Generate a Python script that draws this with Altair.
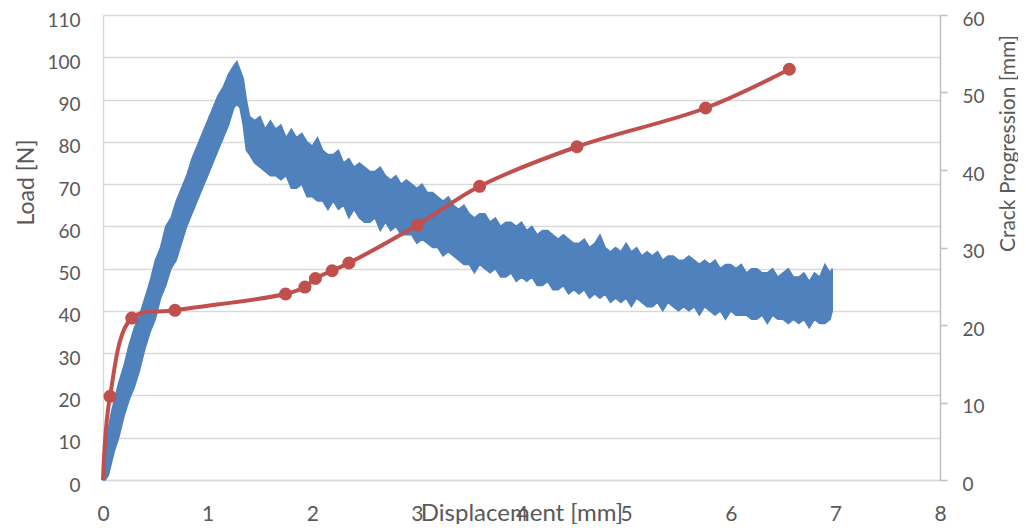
import altair as alt
import pandas as pd

# Load curve (noisy band): displacement [mm], lower and upper envelope of the load [N]
disp = [0.00, 0.02, 0.05, 0.08, 0.11, 0.15, 0.20, 0.25, 0.30, 0.35, 0.40, 0.45, 0.50, 0.55,
        0.60, 0.65, 0.70, 0.75, 0.80, 0.85, 0.90, 0.95, 1.00, 1.05, 1.10, 1.15, 1.20, 1.25,
        1.28, 1.31, 1.34, 1.37,
        1.40, 1.45, 1.50, 1.55, 1.60, 1.65, 1.70, 1.75, 1.80, 1.85, 1.90, 1.95, 2.00, 2.05,
        2.10, 2.15, 2.20, 2.25, 2.30, 2.35, 2.40, 2.45, 2.50, 2.55, 2.60, 2.65, 2.70, 2.75,
        2.80, 2.85, 2.90, 2.95, 3.00, 3.05, 3.10, 3.15, 3.20, 3.25, 3.30, 3.35, 3.40, 3.45,
        3.50, 3.55, 3.60, 3.65, 3.70, 3.75, 3.80, 3.85, 3.90, 3.95, 4.00, 4.05, 4.10, 4.15,
        4.20, 4.25, 4.30, 4.35, 4.40, 4.45, 4.50, 4.55, 4.60, 4.65, 4.70, 4.75, 4.80, 4.85,
        4.90, 4.95, 5.00, 5.05, 5.10, 5.15, 5.20, 5.25, 5.30, 5.35, 5.40, 5.45, 5.50, 5.55,
        5.60, 5.65, 5.70, 5.75, 5.80, 5.85, 5.90, 5.95, 6.00, 6.05, 6.10, 6.15, 6.20, 6.25,
        6.30, 6.35, 6.40, 6.45, 6.50, 6.55, 6.60, 6.65, 6.70, 6.75, 6.80, 6.85, 6.90, 6.95,
        6.97]
load_lo = [0, 0, 1, 4, 7, 10, 15, 19, 22, 26, 31, 35, 38, 43,
           46, 50, 52, 56, 60, 63, 66, 69, 72, 75, 78, 81, 84, 88,
           89, 88, 84, 78,
           77, 75, 74, 73, 72, 72, 71, 72, 69, 69, 70, 67, 67, 66,
           66, 64, 66, 64, 65, 62, 64, 62, 61, 61, 62, 59, 61, 59,
           60, 58, 58, 58, 56, 57, 56, 55, 55, 53, 54, 53, 52, 51,
           51, 49, 51, 50, 49, 50, 48, 48, 49, 47, 48, 47, 48, 46,
           46, 47, 45, 45, 46, 44, 45, 44, 45, 43, 44, 43, 44, 42,
           43, 42, 43, 41, 43, 42, 41, 41, 42, 40, 42, 41, 40, 41,
           40, 41, 39, 41, 40, 39, 40, 38, 40, 39, 39, 39, 38, 38,
           39, 37, 39, 38, 38, 37, 38, 37, 38, 36, 38, 37, 37, 38,
           40]
load_hi = [0, 5, 12, 16, 19, 23, 27, 32, 36, 39, 43, 47, 52, 55,
           60, 62, 66, 69, 72, 76, 79, 82, 85, 88, 91, 93, 96, 98,
           99, 97, 95, 90,
           86, 85, 86, 83, 85, 83, 84, 81, 83, 81, 82, 80, 79, 81,
           78, 77, 77, 78, 75, 76, 74, 75, 74, 73, 73, 74, 72, 71,
           72, 70, 71, 70, 69, 70, 68, 68, 67, 66, 67, 65, 64, 65,
           63, 62, 63, 63, 61, 62, 60, 61, 61, 60, 61, 59, 60, 58,
           59, 59, 58, 57, 58, 57, 56, 56, 57, 55, 56, 58, 55, 54,
           55, 54, 56, 54, 55, 53, 54, 53, 54, 52, 53, 53, 52, 52,
           53, 52, 51, 52, 51, 52, 50, 51, 51, 50, 51, 49, 50, 50,
           49, 49, 50, 48, 49, 50, 48, 48, 49, 47, 49, 48, 51, 49,
           50]

# Crack progression: displacement [mm] and crack length [mm]
crack_disp = [0.0, 0.067, 0.275, 0.688, 1.745, 1.93, 2.03, 2.19, 2.35, 3.005, 3.60, 4.53, 5.76, 6.56]
crack_mm = [0, 10.8, 20.9, 21.9, 24.0, 24.9, 26.0, 27.0, 28.0, 32.9, 37.9, 43.0, 48.0, 53.0]

x_ticks = list(range(0, 9))
load_ticks = list(range(0, 111, 10))
crack_ticks = list(range(0, 61, 10))

load_df = pd.DataFrame({"x": disp, "lo": load_lo, "hi": load_hi})
crack_df = pd.DataFrame({"x": crack_disp, "c": crack_mm})

BLUE = "#4F81BD"
RED = "#C0504D"
TXT = "#595959"
GRID = "#D9D9D9"
FONT = "Lato"

x_enc = alt.X(
    "x:Q",
    scale=alt.Scale(domain=[0, 8], nice=False),
    axis=alt.Axis(
        title="Displacement [mm]", values=x_ticks, format="d", grid=False, ticks=False,
        tickSize=0, domainColor=GRID, domainWidth=1.5, labelFont=FONT, labelFontSize=21,
        labelColor=TXT, labelPadding=23, labelFlush=False, labelOverlap=False,
        titleFont=FONT, titleFontSize=24, titleColor=TXT,
        titleFontWeight="normal", titleY=21, titleBaseline="top",
    ),
)

band = alt.Chart(load_df).mark_area(
    color=BLUE, opacity=1, stroke=BLUE, strokeWidth=1.5
).encode(
    x=x_enc,
    y=alt.Y(
        "lo:Q",
        scale=alt.Scale(domain=[0, 110], nice=False),
        axis=alt.Axis(
            title="Load [N]", values=load_ticks, grid=True, gridColor=GRID,
            gridWidth=1.5, ticks=False, tickSize=0, domainColor=GRID, domainWidth=1.5,
            labelFont=FONT, labelFontSize=19, labelColor=TXT, labelPadding=23, labelOffset=5,
            labelFlush=False,
            titleFont=FONT, titleFontSize=23, titleColor=TXT, titleFontWeight="normal",
            titleX=-77, titleY=167, titleAngle=270, titleAlign="center", titleBaseline="middle",
        ),
    ),
    y2="hi:Q",
)

y_right = alt.Y(
    "c:Q",
    scale=alt.Scale(domain=[0, 60], nice=False),
    axis=alt.Axis(
        orient="right", title="Crack Progression [mm]", values=crack_ticks,
        grid=False, ticks=True, tickSize=7, tickColor="#BFBFBF", tickWidth=1.5,
        domainColor="#BFBFBF", domainWidth=1.5, labelFont=FONT, labelFontSize=19,
        labelColor=TXT, labelPadding=15, labelOffset=4, labelFlush=False,
        titleFont=FONT, titleFontSize=21,
        titleColor=TXT, titleFontWeight="normal", titleX=68, titleY=128, titleAngle=270,
        titleAlign="center", titleBaseline="middle",
    ),
)

crack_base = alt.Chart(crack_df).encode(x="x:Q", y=y_right)
crack_line = crack_base.mark_line(color=RED, strokeWidth=4, interpolate="catmull-rom")
crack_pts = crack_base.transform_filter("datum.x > 0").mark_point(
    color=RED, filled=True, opacity=1, size=170, shape="circle"
)

chart = alt.layer(band, alt.layer(crack_line, crack_pts)).resolve_scale(
    y="independent"
).properties(
    width=837,
    height=465,
    autosize=alt.AutoSizeParams(type="none"),
    padding={"left": 95, "top": 7, "right": 78, "bottom": 44},
    background="white",
).configure_view(stroke=None)

chart.save("out.html", embed_options={"renderer": "svg", "actions": False})
